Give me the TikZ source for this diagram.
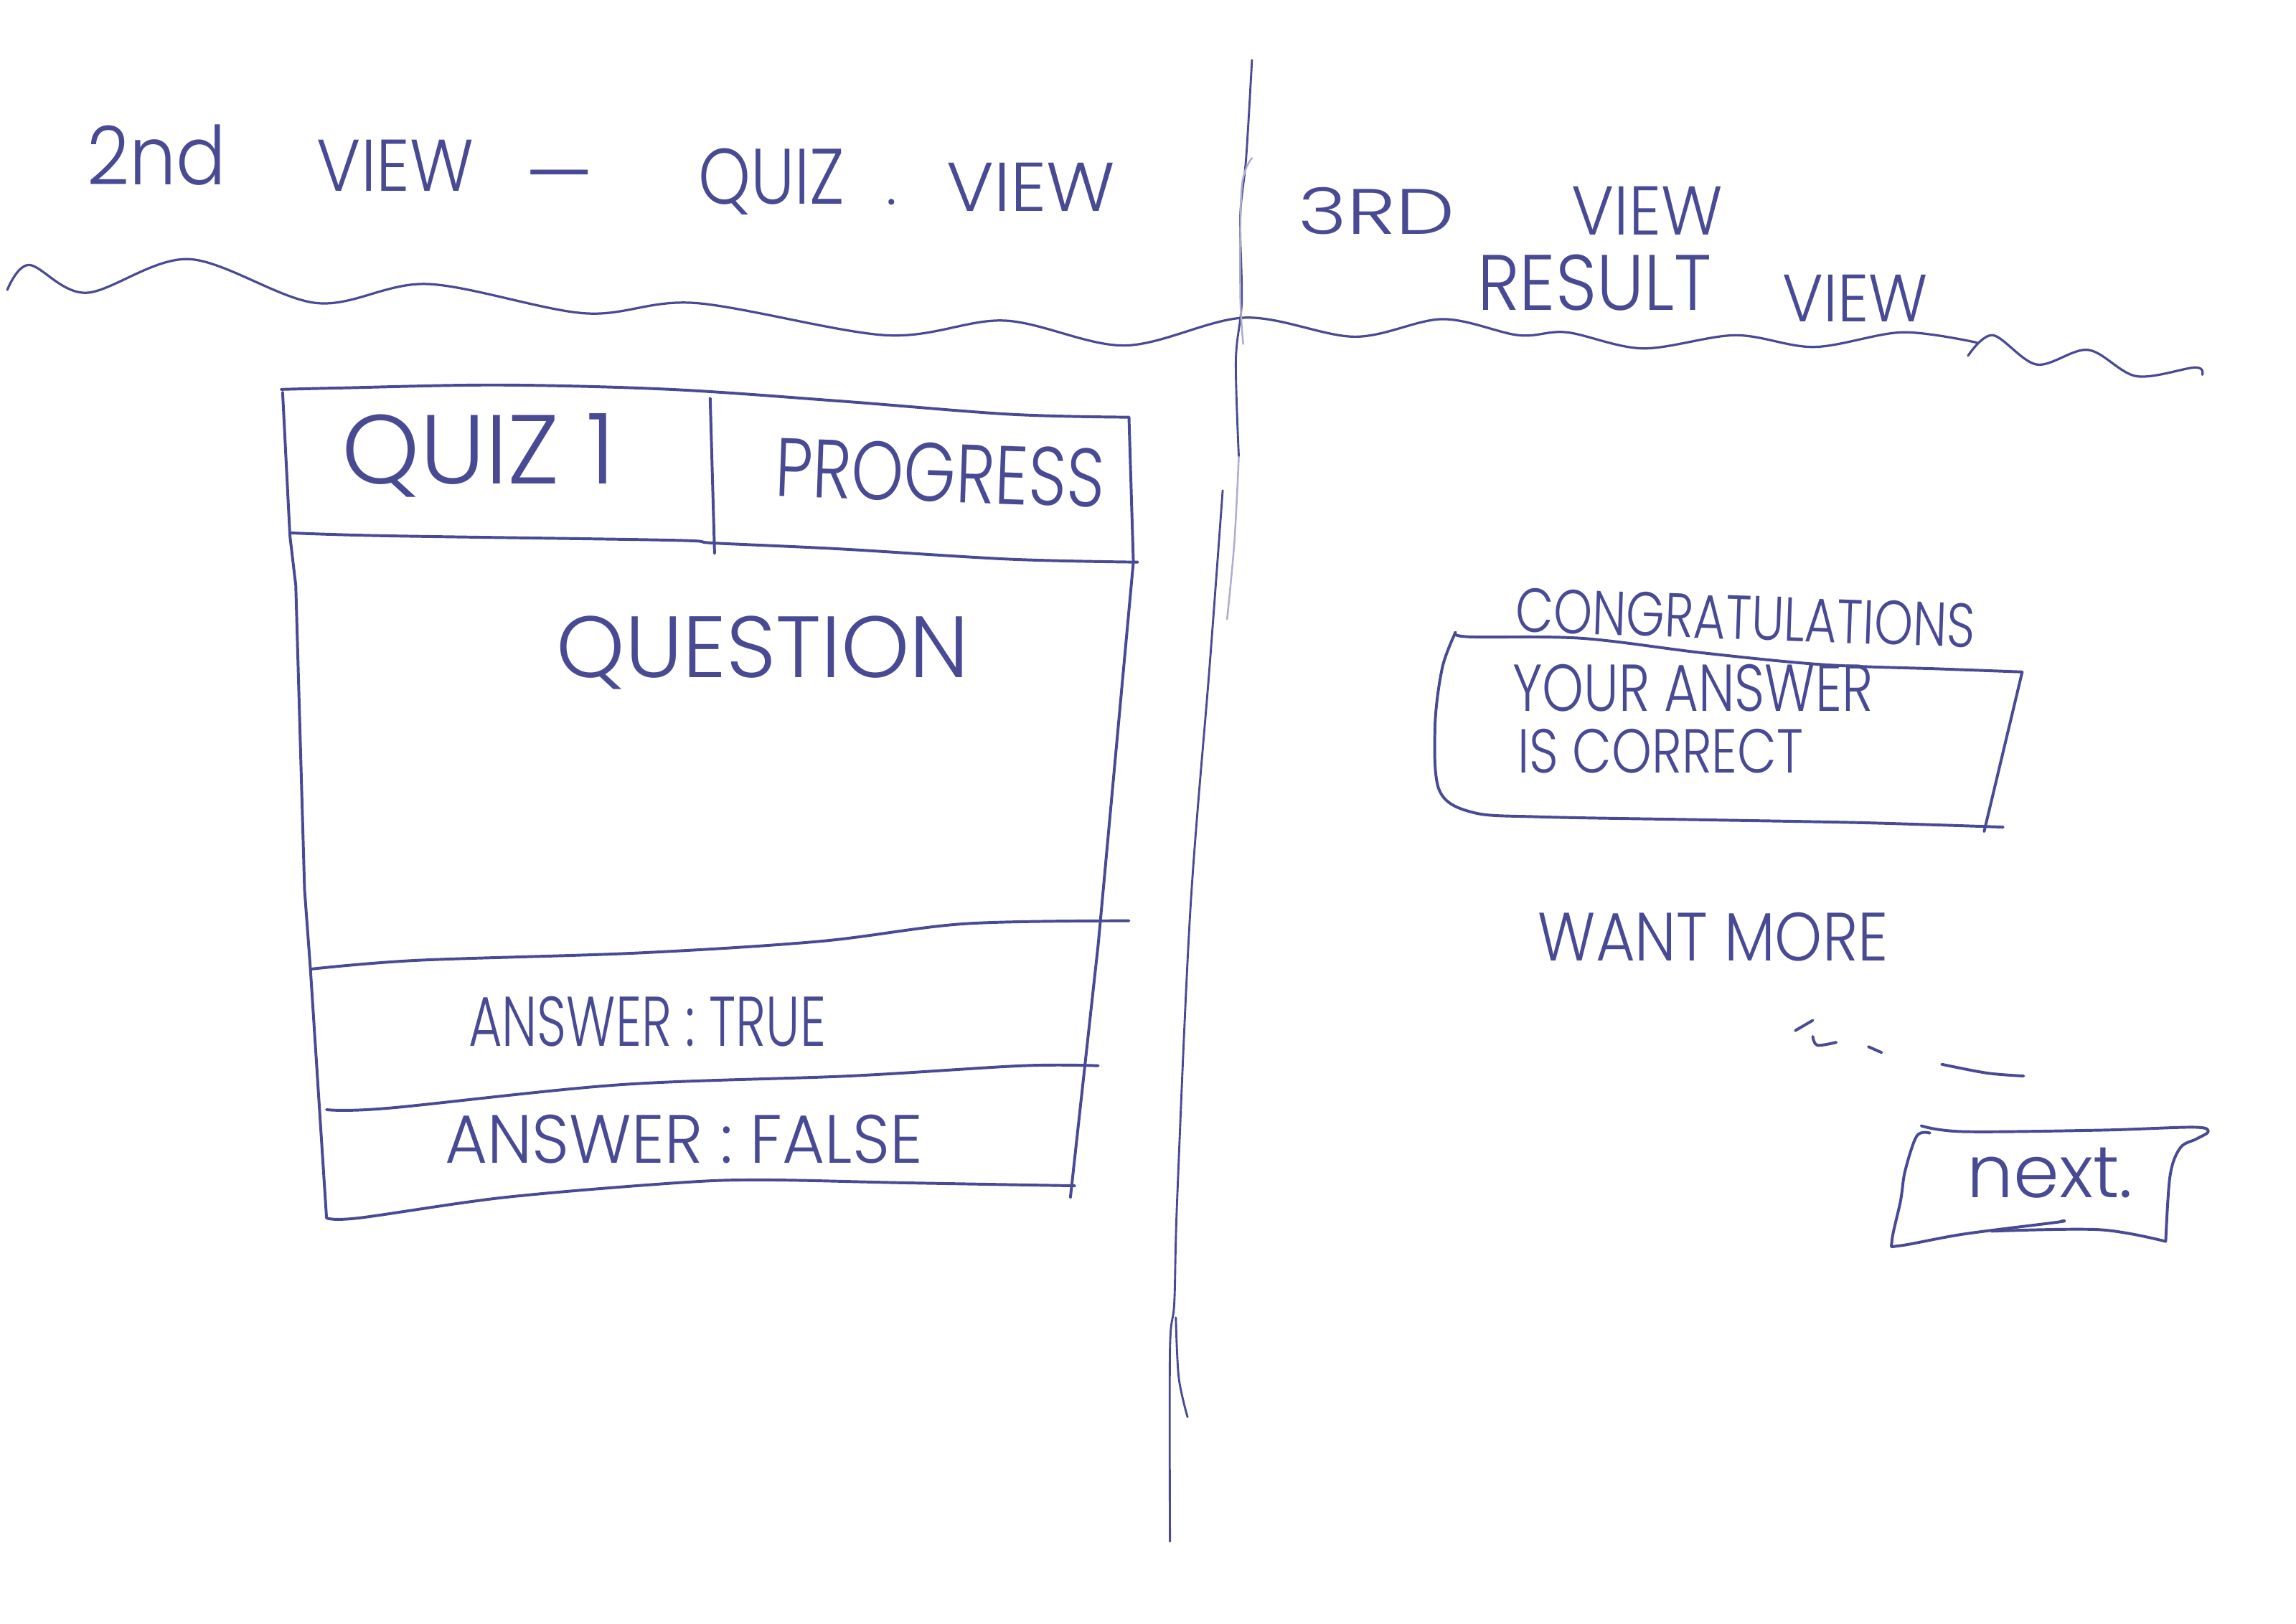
\documentclass[tikz,border=0pt]{standalone}
\usepackage{fontspec}
\IfFontExistsTF{Poppins Light}{\newfontfamily\penfont{Poppins Light}}{\newfontfamily\penfont{Poppins}}
\usepackage{tikz}
\usetikzlibrary{positioning}
\definecolor{ink}{RGB}{72,74,148}
\newlength{\pxu}
\setlength{\pxu}{0.02cm}
\newcommand{\penword}[3]{\resizebox{#1\pxu}{#2\pxu}{#3}}

\begin{document}
\begin{tikzpicture}[
  x=0.02cm, y=-0.02cm,
  hand/.style={inner sep=0pt, text=ink, font=\penfont},
  pen/.style={draw=ink, line width=1.1pt, line cap=round, line join=round},
  faint/.style={draw=ink!45, line width=0.7pt, line cap=round},
  every plot/.style={smooth, tension=0.55}
]
\fill[white] (0,0) rectangle (1568,1109);
% headings
\node[hand] (t2nd) at (107,106) {\penword{95}{41}{2nd}};
\node[hand] (tview1) at (270,113) {\penword{107}{35}{VIEW}};
\node[hand, font=\penfont\fontsize{31}{34}\selectfont] (tdash) at (382,127) {—};
\node[hand] (tquiz) at (527,124) {\penword{100}{38}{QUIZ}};
\node[hand, font=\penfont\fontsize{22}{24}\selectfont] (tdot) at (609,138) {.};
\node[hand] (tview2) at (704,128) {\penword{115}{33}{VIEW}};
\node[hand] (t3rd) at (940,144) {\penword{107}{32}{3RD}};
\node[hand] (tview3) at (1125,144) {\penword{103}{33}{VIEW}};
\node[hand] (tresult) at (1089,193) {\penword{160}{38}{RESULT}};
\node[hand] (tview4) at (1267,204) {\penword{99}{32}{VIEW}};
% wavy rule under the headings
\draw[pen, line width=0.9pt] plot coordinates {(5,198) (20,181) (59,200) (129,177) (216,207)
  (292,194) (399,214) (475,207) (605,229) (686,219) (768,236) (850,217) (925,230)
  (985,218) (1037,229) (1070,227) (1122,238) (1185,229) (1239,237) (1299,227) (1350,234)};
\draw[pen, line width=0.9pt] plot coordinates {(1344,243) (1361,229) (1391,249) (1426,239)
  (1459,257) (1499,251) (1504,256)};
% divider between the two views
\draw[pen, line width=0.8pt] plot coordinates {(855,41) (851,108) (847,148) (848,206)
  (844,246) (846,312)};
\draw[faint] plot coordinates {(846,312) (843,370) (838,423)};
\draw[faint] plot coordinates {(855,108) (848,128) (847,200) (849,235)};
\draw[pen, line width=0.8pt] plot coordinates {(835,335) (826,456) (813,620) (804,817)
  (802,889) (799,922) (799,1053)};
\draw[pen, line width=0.8pt] plot coordinates {(803,900) (805,941) (811,968)};
% quiz view: frame
\draw[pen] plot coordinates {(192,266) (233,265) (341,263) (458,266) (574,274) (690,283) (771,285)};
\draw[pen] (771,285) -- (774,384);
\draw[pen] (193,268) -- (198,366) -- (202,400) -- (208,608) -- (212,662) -- (223,832);
\draw[pen] (774,384) -- (750,645) -- (731,818);
\draw[pen] plot coordinates {(198,364) (264,366) (458,369) (488,371) (574,375) (690,382) (777,384)};
\draw[pen] (485,272) -- (488,378);
\draw[pen] plot coordinates {(212,662) (285,656) (435,651) (560,643) (659,631) (771,629)};
\draw[pen] plot coordinates {(223,758) (265,757) (423,741) (580,735) (698,728) (750,728)};
\draw[pen] plot coordinates {(223,832) (245,832) (344,818) (462,808) (521,806) (619,808) (734,810)};
% quiz view: texts
\node[hand] (tquiz1) at (327,311) {\penword{187}{48}{QUIZ 1}};
\node[hand, rotate=-2] (tprogress) at (642,323) {\penword{225}{40}{PROGRESS}};
\node[hand] (tquestion) at (521,446) {\penword{282}{42}{QUESTION}};
\node[hand] (ttrue) at (442,698) {\penword{244}{34}{ANSWER : TRUE}};
\node[hand] (tfalse) at (467,778) {\penword{326}{33}{ANSWER : FALSE}};
% result view
\node[hand, rotate=-2] (tcongrats) at (1192,422) {\penword{314}{30}{CONGRATULATIONS}};
\draw[pen] plot coordinates {(994,432) (1003,435) (1080,436) (1163,446) (1245,454) (1327,457) (1381,459)};
\draw[pen] (1381,459) -- (1355,568);
\draw[pen] plot coordinates {(1368,565) (1272,562) (1163,560) (1052,558) (1006,555) (983,540)
  (980,496) (985,456) (994,432)};
\node[hand] (tyour) at (1156,470) {\penword{246}{32}{YOUR ANSWER}};
\node[hand] (tcorrect) at (1134,513) {\penword{195}{30}{IS CORRECT}};
\node[hand] (twant) at (1170,640) {\penword{239}{33}{WANT MORE}};
\draw[pen] (1238,697) -- (1226,704);
\draw[pen] plot coordinates {(1238,708) (1241,714) (1254,712)};
\draw[pen] (1276,715) -- (1285,719);
\draw[pen] plot coordinates {(1326,727) (1357,733) (1382,735)};
% next button
\draw[pen] plot coordinates {(1312,769) (1341,773) (1435,772) (1498,770) (1508,773) (1500,778)
  (1489,784) (1482,803) (1479,848)};
\draw[pen] plot coordinates {(1318,774) (1309,776) (1301,800) (1298,820) (1292,848) (1297,851)
  (1341,843) (1404,835) (1408,834)};
\draw[pen] plot coordinates {(1360,841) (1434,840) (1479,848)};
\node[hand] (tnext) at (1400,801) {\penword{113}{34}{next.}};
\end{tikzpicture}
\end{document}
